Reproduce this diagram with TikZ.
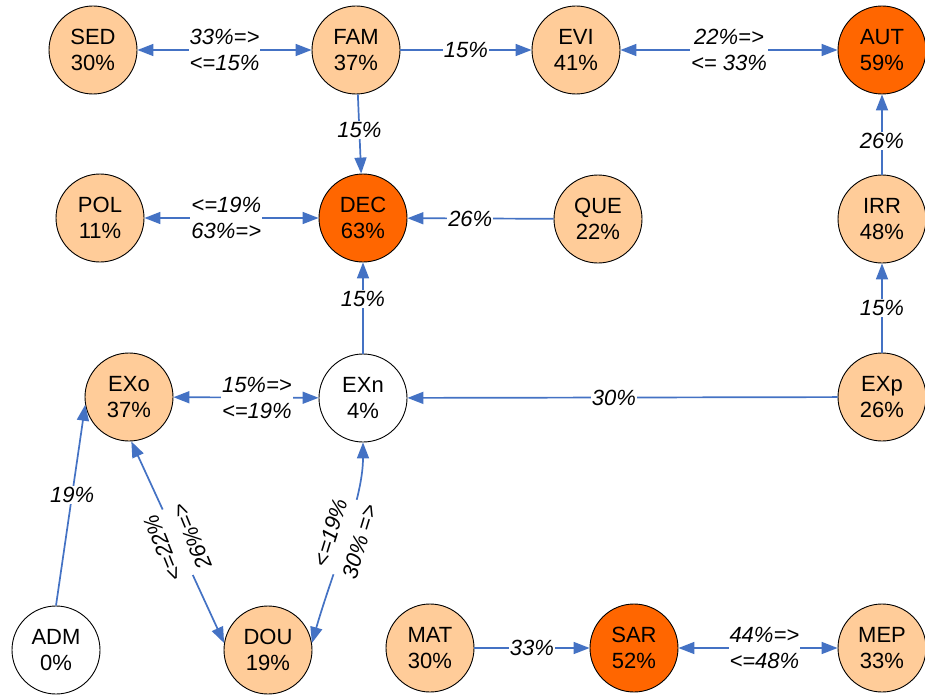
\documentclass[tikz,border=0pt]{standalone}
\usepackage{fontspec}
\setmainfont{Liberation Sans}
\usetikzlibrary{arrows.meta}
\definecolor{lightorange}{HTML}{FFCC99}
\definecolor{darkorange}{HTML}{FF6600}
\definecolor{linkblue}{HTML}{4472C4}

\begin{document}
\begin{tikzpicture}[x=1pt,y=-1pt,
  state/.style={circle, draw=black, line width=0.9pt, minimum size=88pt, inner sep=0pt,
    align=center, font=\fontsize{22}{26}\selectfont},
  light/.style={state, fill=lightorange},
  dark/.style={state, fill=darkorange},
  plain/.style={state, fill=white},
  link/.style={draw=linkblue, line width=1.7pt, -{Triangle[length=16pt,width=12pt]}},
  both/.style={draw=linkblue, line width=1.7pt,
    {Triangle[length=16pt,width=12pt]}-{Triangle[length=16pt,width=12pt]}},
  lbl/.style={fill=white, inner sep=1pt, align=center,
    font=\fontsize{22}{26}\selectfont\itshape},
  widelbl/.style={lbl, font=\fontsize{22}{31}\selectfont\itshape},
]
\fill[white] (0,0) rectangle (925,698);
\useasboundingbox (0,0) rectangle (925,698);

% states
\node[light] (SED) at (93,50)  {SED\\30\%};
\node[light] (FAM) at (356,50) {FAM\\37\%};
\node[light] (EVI) at (576,50) {EVI\\41\%};
\node[dark]  (AUT) at (882,50) {AUT\\59\%};

\node[light] (POL) at (100,218) {POL\\11\%};
\node[dark]  (DEC) at (363,218) {DEC\\63\%};
\node[light] (QUE) at (598,219) {QUE\\22\%};
\node[light] (IRR) at (882,219) {IRR\\48\%};

\node[light] (EXo) at (129,397) {EXo\\37\%};
\node[plain] (EXn) at (363,398) {EXn\\4\%};
\node[light] (EXp) at (882,397) {EXp\\26\%};

\node[plain] (ADM) at (56,650)  {ADM\\0\%};
\node[light] (DOU) at (268,650) {DOU\\19\%};
\node[light] (MAT) at (430,648) {MAT\\30\%};
\node[dark]  (SAR) at (634,648) {SAR\\52\%};
\node[light] (MEP) at (882,648) {MEP\\33\%};

% transitions
\draw[both] (SED) -- node[lbl]{33\%=>\\<=15\%} (FAM);
\draw[link] (FAM) -- node[lbl]{15\%} (EVI);
\draw[both] (EVI) -- node[lbl]{22\%=>\\<= 33\%} (AUT);
\draw[link] (FAM) -- node[lbl,pos=0.45]{15\%} (DEC);
\draw[both] (POL) -- node[lbl,pos=0.47]{<=19\%\\63\%=>} (DEC);
\draw[link] (QUE) -- node[lbl,pos=0.57]{26\%} (DEC);
\draw[link] (IRR) -- node[lbl,pos=0.42]{26\%} (AUT);
\draw[link] (EXp) -- node[lbl]{15\%} (IRR);
\draw[link] (EXn) -- node[lbl,pos=0.6]{15\%} (DEC);
\draw[both] (EXo) -- node[lbl,pos=0.575]{15\%=>\\<=19\%} (EXn);
\draw[link] (EXp) -- node[lbl,pos=0.52]{30\%} (EXn);
\draw[link] (ADM.north) -- node[lbl,pos=0.55]{19\%} (EXo.190);
\draw[both] (EXo.273) -- node[widelbl,rotate=112]{<=22\%\\26\%=>} (DOU.171);
\draw[both] (EXn.south) .. controls +(0,58) and +(21,-73) ..
  node[widelbl,pos=0.5,rotate=73]{<=19\%\\30\% =>} (DOU.9);
\draw[link] (MAT) -- node[lbl]{33\%} (SAR);
\draw[both] (SAR) -- node[lbl,pos=0.54]{44\%=>\\<=48\%} (MEP);
\end{tikzpicture}
\end{document}
